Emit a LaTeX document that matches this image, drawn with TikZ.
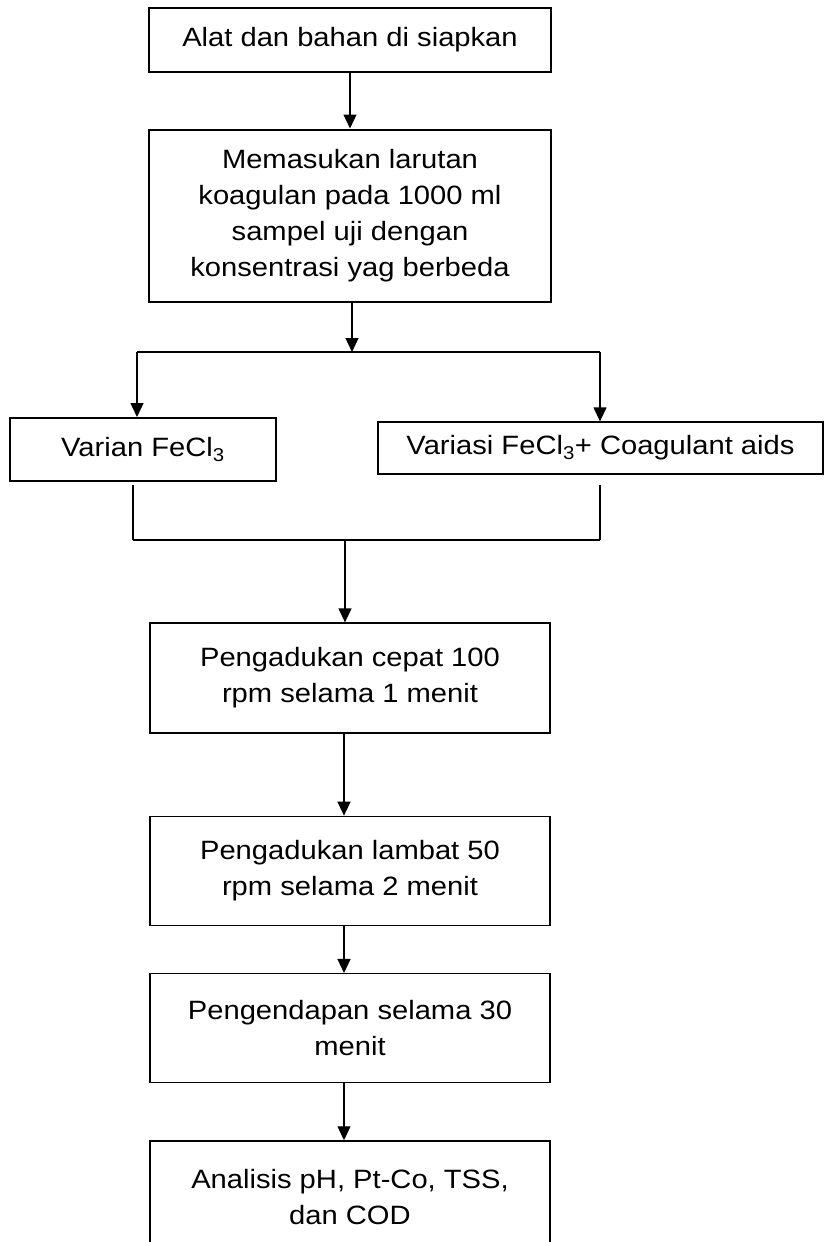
\documentclass[tikz,border=0pt]{standalone}
\usepackage{fontspec}
\setmainfont[FakeStretch=1.1]{Liberation Sans}
\usetikzlibrary{arrows.meta,positioning}

\begin{document}
\begin{tikzpicture}[
    x=1pt, y=1pt,
    box/.style={
        draw,
        line width=1.3pt,
        align=center,
        minimum width=400pt,
        inner sep=0pt,
        font=\fontsize{26.5}{36}\selectfont
    },
    thickbox/.style={
        box,
        line width=2pt
    },
    arrow/.style={-{Triangle[length=14pt,width=13pt]}, line width=1.3pt},
    link/.style={line width=1.3pt}
]
\useasboundingbox[fill=white] (0,0) rectangle (828,-1242);

\node[thickbox, minimum width=402pt, minimum height=64pt] (alat) at (350,-39.5) {Alat dan bahan di siapkan};
\node[thickbox, minimum width=402pt, minimum height=172pt, below=56pt of alat] (masuk) {Memasukan larutan\\koagulan pada 1000 ml\\sampel uji dengan\\konsentrasi yag berbeda};
\node[thickbox, minimum width=266pt, minimum height=63pt] (varian) at (143,-449.5) {Varian FeCl\textsubscript{3}};
\node[box, minimum width=445pt, minimum height=52pt] (variasi) at (600.5,-448) {Variasi FeCl\textsubscript{3}+ Coagulant aids};
\node[box, minimum height=110pt] (cepat) at (350,-678) {Pengadukan cepat 100\\rpm selama 1 menit};
\node[box, minimum height=109pt, below=82pt of cepat] (lambat) {Pengadukan lambat 50\\rpm selama 2 menit};
\node[box, minimum height=109pt, below=47pt of lambat] (endap) {Pengendapan selama 30\\menit};
\node[box, minimum height=113pt, below=57pt of endap] (analisis) {Analisis pH, Pt-Co, TSS,\\dan COD};

% split and join points
\coordinate (split) at (352,-352);
\coordinate (splitL) at (137,-352);
\coordinate (splitR) at (600,-352);
\coordinate (joinL) at (133,-540);
\coordinate (joinR) at (600,-540);
\coordinate (join) at (345,-540);
\coordinate (axis) at (344,0);

\draw[arrow] (alat) -- (masuk);
\draw[arrow] (masuk.south -| split) -- (split);
\draw[link] (splitL) -- (splitR);
\draw[arrow] (splitL) -- (varian.north -| splitL);
\draw[arrow] (splitR) -- (variasi.north -| splitR);
\draw[link, shorten <=3pt] (varian.south -| joinL) -- (joinL);
\draw[link, shorten <=10pt] (variasi.south -| joinR) -- (joinR);
\draw[link] (joinL) -- (joinR);
\draw[arrow] (join) -- (cepat.north -| join);
\draw[arrow] (cepat.south -| axis) -- (lambat.north -| axis);
\draw[arrow] (lambat.south -| axis) -- (endap.north -| axis);
\draw[arrow] (endap.south -| axis) -- (analisis.north -| axis);
\end{tikzpicture}
\end{document}
